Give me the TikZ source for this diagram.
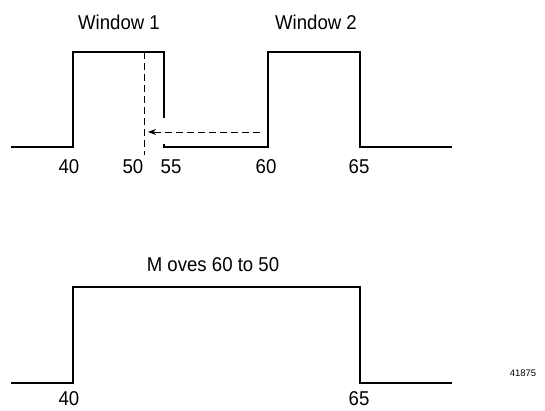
\documentclass[tikz,border=0pt]{standalone}
\usepackage{fontspec}
\setmainfont{Liberation Sans}
\usetikzlibrary{arrows.meta}
\newcommand{\narrowtxt}[1]{\scalebox{0.93}[1]{#1}}
\begin{document}
\begin{tikzpicture}[x=1pt,y=-1pt,
  wave/.style={line width=1.7pt,line join=miter},
  guide/.style={line width=0.8pt,dash pattern=on 7pt off 4pt},
  lbl/.style={font=\fontsize{20}{22}\selectfont,inner sep=0pt},
  tag/.style={font=\fontsize{9.5}{10}\selectfont,inner sep=0pt}]
\useasboundingbox (0,0) rectangle (545,411);
% top waveform
\coordinate (a0) at (11,147);
\coordinate (a1) at (73,147);
\coordinate (a2) at (73,52);
\coordinate (a3) at (164,52);
\coordinate (a4) at (164,118);
\coordinate (b0) at (164,144);
\coordinate (b1) at (164,147);
\coordinate (b2) at (268,147);
\coordinate (b3) at (268,52);
\coordinate (b4) at (360,52);
\coordinate (b5) at (360,147);
\coordinate (b6) at (452,147);
\draw[wave] (a0) -- (a1) -- (a2) -- (a3) -- (a4);
\draw[wave] (b0) -- (b1) -- (b2) -- (b3) -- (b4) -- (b5) -- (b6);
% dashed guide and arrow
\coordinate (g0) at (144,52);
\coordinate (g1) at (144,155);
\draw[guide] (g0) -- (g1);
\coordinate (s0) at (260,132);
\coordinate (s1) at (148,132);
\draw[guide,-{Stealth[length=8pt,width=6pt]}] (s0) -- (s1);
% top labels
\node[lbl] (w1) at (119,22) {\narrowtxt{Window 1}};
\node[lbl] (w2) at (316,22) {\narrowtxt{Window 2}};
\node[lbl] (n40) at (69,167) {\narrowtxt{40}};
\node[lbl] (n50) at (133,167) {\narrowtxt{50}};
\node[lbl] (n55) at (171,167) {\narrowtxt{55}};
\node[lbl] (n60) at (266,167) {\narrowtxt{60}};
\node[lbl] (n65) at (359,167) {\narrowtxt{65}};
% bottom waveform
\coordinate (c0) at (11,383);
\coordinate (c1) at (73,383);
\coordinate (c2) at (73,287);
\coordinate (c3) at (360,287);
\coordinate (c4) at (360,383);
\coordinate (c5) at (452,383);
\draw[wave] (c0) -- (c1) -- (c2) -- (c3) -- (c4) -- (c5);
\node[lbl] (mv) at (213,265) {\narrowtxt{M oves 60 to 50}};
\node[lbl] (m40) at (69,399) {\narrowtxt{40}};
\node[lbl] (m65) at (359,399) {\narrowtxt{65}};
\node[tag] (id) at (523,373) {41875};
\end{tikzpicture}
\end{document}
